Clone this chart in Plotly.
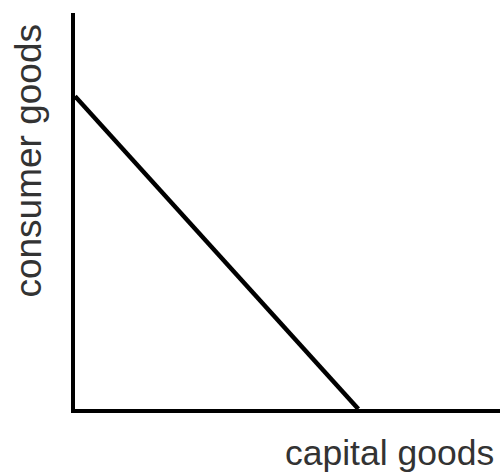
import plotly.graph_objects as go

# production possibilities frontier endpoints
capital = [0, 2]
consumer = [3.95, 0]
x_label = "capital goods"
y_label = "consumer goods"

fig = go.Figure()

fig.add_trace(go.Scatter(
    x=capital,
    y=consumer,
    mode='lines',
    line=dict(color='black', width=4.5),
    hoverinfo='skip',
    showlegend=False
))

axis_style = dict(
    showline=True,
    linecolor='black',
    linewidth=4,
    showgrid=False,
    zeroline=False,
    showticklabels=False,
    ticks='',
    fixedrange=True
)

fig.update_layout(
    width=500,
    height=474,
    margin=dict(l=75, r=0, t=13, b=65),
    plot_bgcolor='white',
    paper_bgcolor='white',
    font=dict(family='Liberation Sans, Arial, sans-serif', color='#333333'),
    xaxis=dict(range=[0, 3], **axis_style),
    yaxis=dict(range=[0, 5], **axis_style),
    annotations=[
        dict(text=x_label, xref='paper', yref='paper', x=0.74, y=-0.11,
             xanchor='center', yanchor='middle', showarrow=False,
             font=dict(size=35.5)),
        dict(text=y_label, xref='paper', yref='paper', x=-0.11, y=0.628,
             xanchor='center', yanchor='middle', showarrow=False,
             textangle=-90, font=dict(size=37)),
    ]
)

# page has a default 8px body margin; drop it so the figure sits at the corner
fig.write_html("out.html", config={'displayModeBar': False},
               post_script="document.body.style.margin='0';")
